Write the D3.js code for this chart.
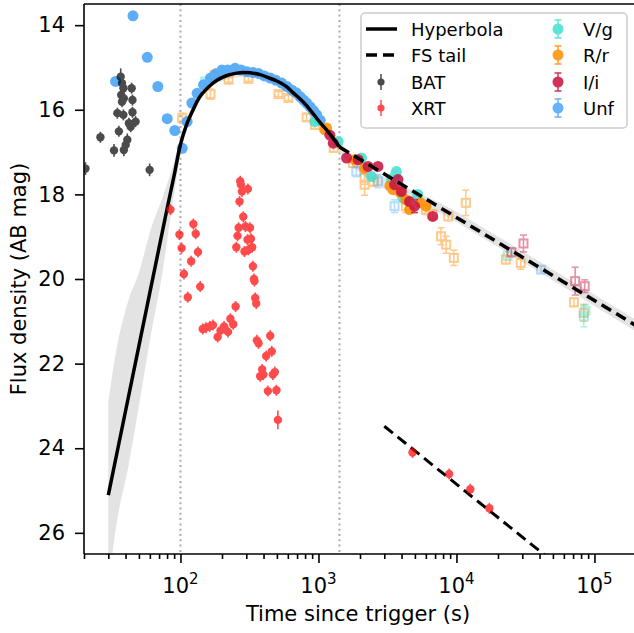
<!DOCTYPE html>
<html>
<head>
<meta charset="utf-8">
<script src="https://cdn.jsdelivr.net/npm/d3@7"></script>
<style>
  body { margin: 0; background: #fff; }
  text { font-family: "DejaVu Sans", sans-serif; }
</style>
</head>
<body>
<div id="chart"></div>
<script>
// ---- data ----
var batT = [20.5, 26.3, 33.0, 34.9, 35.8, 36.9, 37.2, 37.7, 37.7, 38.6, 38.6, 38.9, 38.9, 40.1, 41.2, 42.3, 43.6, 44.3, 44.9, 44.9, 47.3, 59.8]
var batMag = [17.39, 16.65, 16.96, 16.08, 16.51, 15.22, 15.65, 15.37, 15.81, 15.49, 16.12, 15.73, 16.95, 16.83, 16.71, 16.32, 16.40, 15.49, 15.77, 16.06, 16.28, 17.42]
var batErr = [0.15, 0.13, 0.15, 0.13, 0.13, 0.2, 0.13, 0.13, 0.13, 0.13, 0.13, 0.13, 0.15, 0.15, 0.15, 0.13, 0.13, 0.13, 0.13, 0.13, 0.13, 0.15]

var xrtT = [84.7, 98.3, 102, 106, 113, 119.5, 124, 129, 134, 139, 145, 153, 163, 172, 186, 195, 207, 221, 230, 241,
  251, 254, 259, 264, 268, 271, 274, 279, 285, 291, 296, 306, 308, 311, 319, 324, 331, 335, 341, 344,
  348, 354, 358, 368, 378, 391, 399, 418, 430, 447, 459, 467, 483, 496, 508,
  4800, 8850, 12600, 17300]
var xrtMag = [18.36, 18.95, 19.27, 19.88, 20.43, 19.58, 18.70, 18.93, 19.36, 20.18, 21.18, 21.15, 21.12, 21.09, 21.37, 21.22, 21.12, 21.25, 20.94, 21.07,
  20.65, 19.25, 18.98, 18.79, 18.17, 17.69, 17.77, 17.93, 18.53, 19.35, 18.76, 19.07, 17.87, 19.31, 18.79, 19.05, 19.25, 19.70, 20.00, 20.05,
  20.45, 20.58, 21.45, 21.52, 22.30, 22.14, 22.26, 21.82, 22.65, 21.34, 21.71, 22.26, 22.20, 22.63, 23.33,
  24.10, 24.61, 24.97, 25.42]
var xrtErr = xrtT.map((t, i) => i === 54 ? 0.22 : 0.13)

// filled circles
var unfT = [33.9, 45.3, 57.5, 68.6, 80.2, 91.0, 103, 111.8, 121, 132, 147, 165, 180, 200, 220, 249, 275, 303, 335, 368,
  405, 447, 490, 541, 590, 640, 690, 736, 780, 821, 870, 920, 970, 1030]
var unfMag = [15.33, 13.78, 14.76, 15.45, 16.21, 16.49, 16.91, 16.28, 15.84, 15.61, 15.41, 15.25, 15.15, 15.06, 15.06, 15.02, 15.06, 15.10, 15.12, 15.14,
  15.20, 15.25, 15.30, 15.37, 15.45, 15.53, 15.60, 15.69, 15.77, 15.84, 15.93, 16.02, 16.12, 16.25]
var vgT = [940, 1390, 2050, 2420, 3380, 3600, 3670, 4100, 5240]
var vgMag = [16.28, 16.75, 17.14, 17.58, 17.65, 17.55, 17.46, 18.09, 18.00]
var rrT = [1110, 1145, 1830, 2160, 3300, 3460, 3900, 4300, 4570, 5500, 6010]
var rrMag = [16.47, 16.43, 17.18, 17.38, 17.80, 17.89, 17.95, 18.13, 18.36, 18.20, 18.28]
var iiT = [1210, 1280, 1598, 1940, 2288, 2700, 3560, 3770, 3990, 4570, 4970, 6730]
var iiMag = [16.60, 16.79, 17.14, 17.18, 17.34, 17.34, 17.77, 17.65, 17.93, 18.17, 18.28, 18.52]
var iiErr = [0.05, 0.05, 0.05, 0.05, 0.05, 0.05, 0.06, 0.06, 0.06, 0.08, 0.15, 0.06]

// open squares (other telescopes)
var rrOpenT = [103, 165, 176, 223, 311, 513, 606, 821, 942, 1290, 1780, 2160, 2160, 2500, 4300, 6010, 6730, 8720, 11700, 7720, 8420, 9570, 22800, 29200, 71000, 83700]
var rrOpenMag = [16.20, 15.63, 15.18, 15.29, 15.27, 15.63, 15.72, 16.18, 16.36, 16.90, 17.26, 17.61, 17.77, 17.70, 18.28, 18.36, 18.48, 18.52, 18.20, 18.99, 19.19, 19.50, 19.54, 19.62, 20.55, 20.80]
var rrOpenErr = [0.12, 0.12, 0.06, 0.06, 0.06, 0.06, 0.06, 0.08, 0.08, 0.1, 0.1, 0.15, 0.25, 0.1, 0.15, 0.12, 0.12, 0.1, 0.3, 0.2, 0.2, 0.18, 0.1, 0.15, 0.1, 0.2]
var vgOpenT = [151, 23500, 83700, 86000]
var vgOpenMag = [15.33, 19.45, 20.88, 20.75]
var vgOpenErr = [0.06, 0.1, 0.25, 0.15]
var iiOpenT = [25000, 30600, 72500, 85000]
var iiOpenMag = [19.37, 19.16, 20.05, 20.17]
var iiOpenErr = [0.1, 0.2, 0.33, 0.15]
var unfOpenT = [1880, 2700, 3560, 41000]
var unfOpenMag = [17.46, 17.69, 18.28, 19.78]
var unfOpenErr = [0.12, 0.15, 0.15, 0.08]

// model curves
var hypT = [30, 40, 50, 60, 70, 80, 90, 100, 110, 121, 139, 165, 184, 217, 250, 290, 378, 423, 499, 580, 657, 740, 821, 1026, 1113, 1250, 1420]
var hypMag = [25.11, 23.12, 21.58, 20.32, 19.26, 18.34, 17.55, 16.82, 16.38, 16.06, 15.68, 15.42, 15.30, 15.19, 15.14, 15.12, 15.17, 15.23, 15.32, 15.44, 15.60, 15.75, 15.90, 16.30, 16.43, 16.63, 16.88]
var fsT = [1420, 200000]
var fsMag = [16.88, 21.10]
var xrtTailT = [3000, 50000]
var xrtTailMag = [23.48, 26.68]
var bandT = [30, 34, 42, 50, 62, 74, 82, 87, 100, 130, 200, 300, 600, 1000, 1420, 10000, 200000]
var bandBright = [22.9, 21.75, 20.5, 19.85, 18.75, 18.08, 17.65, 17.39, 16.65, 15.78, 15.15, 15.07, 15.42, 16.18, 16.76, 18.41, 20.96]
var bandFaint = [27.3, 25.9, 24.42, 23.0, 21.2, 19.85, 18.86, 18.3, 17.05, 15.95, 15.32, 15.22, 15.6, 16.34, 17.0, 18.65, 21.24]
var breakTimes = [100, 1420]

var yTicks = [14, 16, 18, 20, 22, 24, 26]
var xMajor = [100, 1000, 10000, 100000]

// ---- layout ----
var width = 634, height = 633
var plot = { left: 84, right: 636, top: 4, bottom: 554 }

var svg = d3.select('#chart').append('svg')
  .attr('width', width).attr('height', height)

var x = d3.scaleLog().domain([20, 2e5]).range([plot.left, plot.right])
var y = d3.scaleLinear().domain([13.5, 26.5]).range([plot.top, plot.bottom])

svg.append('clipPath').attr('id', 'clip')
  .append('rect')
  .attr('x', plot.left).attr('y', plot.top)
  .attr('width', plot.right - plot.left).attr('height', plot.bottom - plot.top)

var g = svg.append('g').attr('clip-path', 'url(#clip)')

// dotted lines at the breaks
g.selectAll('.brk').data(breakTimes).enter().append('line')
  .attr('x1', d => x(d)).attr('x2', d => x(d))
  .attr('y1', plot.top).attr('y2', plot.bottom)
  .attr('stroke', '#aaaaaa').attr('stroke-width', 2).attr('stroke-dasharray', '2,3.3')

// uncertainty band
var band = bandT.map((t, i) => ({ t: t, lo: bandBright[i], hi: bandFaint[i] }))
g.append('path').datum(band)
  .attr('fill', '#e3e3e3')
  .attr('d', d3.area().x(d => x(d.t)).y0(d => y(d.hi)).y1(d => y(d.lo)).curve(d3.curveMonotoneX))

function zip(ts, ms, es, e0) {
  return ts.map((t, i) => ({ t: t, m: ms[i], e: es ? es[i] : e0 }))
}

// error bar with caps + marker
function drawSeries(data, color, opts) {
  var s = g.append('g').attr('opacity', opts.alpha)
  s.selectAll('.eb').data(data).enter().append('line')
    .attr('x1', d => x(d.t)).attr('x2', d => x(d.t))
    .attr('y1', d => y(d.m - d.e)).attr('y2', d => y(d.m + d.e))
    .attr('stroke', color).attr('stroke-width', 1.6)
  if (opts.caps) {
    [-1, 1].forEach(sg => {
      s.selectAll('.cap').data(data).enter().append('line')
        .attr('x1', d => x(d.t) - 3.5).attr('x2', d => x(d.t) + 3.5)
        .attr('y1', d => y(d.m + sg * d.e)).attr('y2', d => y(d.m + sg * d.e))
        .attr('stroke', color).attr('stroke-width', 1.5)
    })
  }
  if (opts.square) {
    s.selectAll('.mk').data(data).enter().append('rect')
      .attr('x', d => x(d.t) - 4).attr('y', d => y(d.m) - 4)
      .attr('width', 8).attr('height', 8)
      .attr('fill', 'none').attr('stroke', color).attr('stroke-width', 2)
  } else {
    s.selectAll('.mk').data(data).enter().append('circle')
      .attr('cx', d => x(d.t)).attr('cy', d => y(d.m)).attr('r', opts.r)
      .attr('fill', color)
  }
}

var cV = '#40e0d0', cR = '#ff8c00', cI = '#c8103e', cU = '#4da6f7'

// open squares
drawSeries(zip(rrOpenT, rrOpenMag, rrOpenErr), cR, { alpha: 0.45, square: true, caps: true })
drawSeries(zip(vgOpenT, vgOpenMag, vgOpenErr), cV, { alpha: 0.45, square: true, caps: true })
drawSeries(zip(iiOpenT, iiOpenMag, iiOpenErr), cI, { alpha: 0.45, square: true, caps: true })
drawSeries(zip(unfOpenT, unfOpenMag, unfOpenErr), cU, { alpha: 0.4, square: true, caps: true })

// filled circles
drawSeries(zip(unfT, unfMag, null, 0.03), cU, { alpha: 0.9, r: 5.5, caps: true })
drawSeries(zip(vgT, vgMag, null, 0.05), cV, { alpha: 0.85, r: 5.5, caps: true })
drawSeries(zip(rrT, rrMag, null, 0.05), cR, { alpha: 0.85, r: 5.5, caps: true })
drawSeries(zip(iiT, iiMag, iiErr), cI, { alpha: 0.85, r: 5.5, caps: true })

// model lines
g.append('path').datum(zip(hypT, hypMag, null, 0))
  .attr('fill', 'none').attr('stroke', 'black').attr('stroke-width', 3.5)
  .attr('stroke-linejoin', 'round')
  .attr('d', d3.line().x(d => x(d.t)).y(d => y(d.m)).curve(d3.curveCatmullRom.alpha(0.5)))
g.append('path').datum(zip(fsT, fsMag, null, 0))
  .attr('fill', 'none').attr('stroke', 'black').attr('stroke-width', 3.5)
  .attr('stroke-dasharray', '11,6')
  .attr('d', d3.line().x(d => x(d.t)).y(d => y(d.m)))
g.append('path').datum(zip(xrtTailT, xrtTailMag, null, 0))
  .attr('fill', 'none').attr('stroke', 'black').attr('stroke-width', 3)
  .attr('stroke-dasharray', '11,6')
  .attr('d', d3.line().x(d => x(d.t)).y(d => y(d.m)))

// high energy points
drawSeries(zip(batT, batMag, batErr), 'black', { alpha: 0.7, r: 4.2 })
drawSeries(zip(xrtT, xrtMag, xrtErr), 'red', { alpha: 0.7, r: 4.2 })

// ---- axes ----
var yAxis = svg.append('g')
  .attr('transform', 'translate(' + plot.left + ',0)')
  .call(d3.axisLeft(y).tickValues(yTicks).tickSize(9).tickPadding(10).tickFormat(d3.format('d')))
yAxis.selectAll('text').attr('font-size', '21px').attr('fill', 'black')

var minor = x.ticks().filter(d => xMajor.indexOf(d) < 0)
var xMinorAxis = svg.append('g')
  .attr('transform', 'translate(0,' + plot.bottom + ')')
  .call(d3.axisBottom(x).tickValues(minor).tickSize(5).tickFormat(''))
var xAxis = svg.append('g')
  .attr('transform', 'translate(0,' + plot.bottom + ')')
  .call(d3.axisBottom(x).tickValues(xMajor).tickSize(9).tickFormat(''))

svg.selectAll('.domain, .tick line').attr('stroke', 'black').attr('stroke-width', 1.6)
xMinorAxis.select('.domain').remove()
yAxis.select('.domain').attr('d', 'M0,' + plot.top + 'V' + plot.bottom)
xAxis.select('.domain').attr('d', 'M' + plot.left + ',0H' + plot.right)

// top spine
svg.append('line')
  .attr('x1', plot.left).attr('x2', plot.right)
  .attr('y1', plot.top).attr('y2', plot.top)
  .attr('stroke', 'black').attr('stroke-width', 1.6)

// power-of-ten labels
var xl = svg.selectAll('.xlab').data(xMajor).enter().append('text')
  .attr('x', d => x(d)).attr('y', 593)
  .attr('text-anchor', 'middle').attr('font-size', '21px')
xl.append('tspan').text('10')
xl.append('tspan').attr('dy', -9).attr('font-size', '15px').text(d => Math.round(Math.log10(d)))

svg.append('text')
  .attr('x', (plot.left + plot.right) / 2 - 2).attr('y', 621)
  .attr('text-anchor', 'middle').attr('font-size', '21px')
  .text('Time since trigger (s)')
svg.append('text')
  .attr('transform', 'translate(26,' + (plot.top + plot.bottom) / 2 + ') rotate(-90)')
  .attr('text-anchor', 'middle').attr('font-size', '21px')
  .text('Flux density (AB mag)')

// ---- legend ----
var lg = svg.append('g')
lg.append('rect')
  .attr('x', 361).attr('y', 13).attr('width', 266).attr('height', 115)
  .attr('rx', 4).attr('fill', 'white').attr('fill-opacity', 0.8)
  .attr('stroke', '#cccccc').attr('stroke-width', 1.5)

var rowY = [29, 55, 82, 108]
var leftItems = ['Hyperbola', 'FS tail', 'BAT', 'XRT']
var rightItems = ['V/g', 'R/r', 'I/i', 'Unf']
var rightColors = [cV, cR, cI, cU]

lg.append('line').attr('x1', 366).attr('x2', 397).attr('y1', rowY[0]).attr('y2', rowY[0])
  .attr('stroke', 'black').attr('stroke-width', 3.5)
lg.append('line').attr('x1', 366).attr('x2', 397).attr('y1', rowY[1]).attr('y2', rowY[1])
  .attr('stroke', 'black').attr('stroke-width', 3.5).attr('stroke-dasharray', '11,6')

;[['black', rowY[2]], ['red', rowY[3]]].forEach(p => {
  var m = lg.append('g').attr('opacity', 0.7)
  m.append('line').attr('x1', 381).attr('x2', 381).attr('y1', p[1] - 8).attr('y2', p[1] + 8)
    .attr('stroke', p[0]).attr('stroke-width', 1.5)
  m.append('circle').attr('cx', 381).attr('cy', p[1]).attr('r', 3.6).attr('fill', p[0])
})

rightItems.forEach((name, i) => {
  var m = lg.append('g').attr('opacity', 0.85)
  var cy = rowY[i]
  m.append('line').attr('x1', 558).attr('x2', 558).attr('y1', cy - 9).attr('y2', cy + 9)
    .attr('stroke', rightColors[i]).attr('stroke-width', 1.5)
  ;[-9, 9].forEach(o => m.append('line').attr('x1', 554.5).attr('x2', 561.5)
    .attr('y1', cy + o).attr('y2', cy + o).attr('stroke', rightColors[i]).attr('stroke-width', 1.5))
  m.append('circle').attr('cx', 558).attr('cy', cy).attr('r', 5.5).attr('fill', rightColors[i])
})

lg.selectAll('.ll').data(leftItems).enter().append('text')
  .attr('x', 411).attr('y', (d, i) => rowY[i] + 6.5)
  .attr('font-size', '18px').text(d => d)
lg.selectAll('.rl').data(rightItems).enter().append('text')
  .attr('x', 583).attr('y', (d, i) => rowY[i] + 6.5)
  .attr('font-size', '18px').text(d => d)
</script>
</body>
</html>
